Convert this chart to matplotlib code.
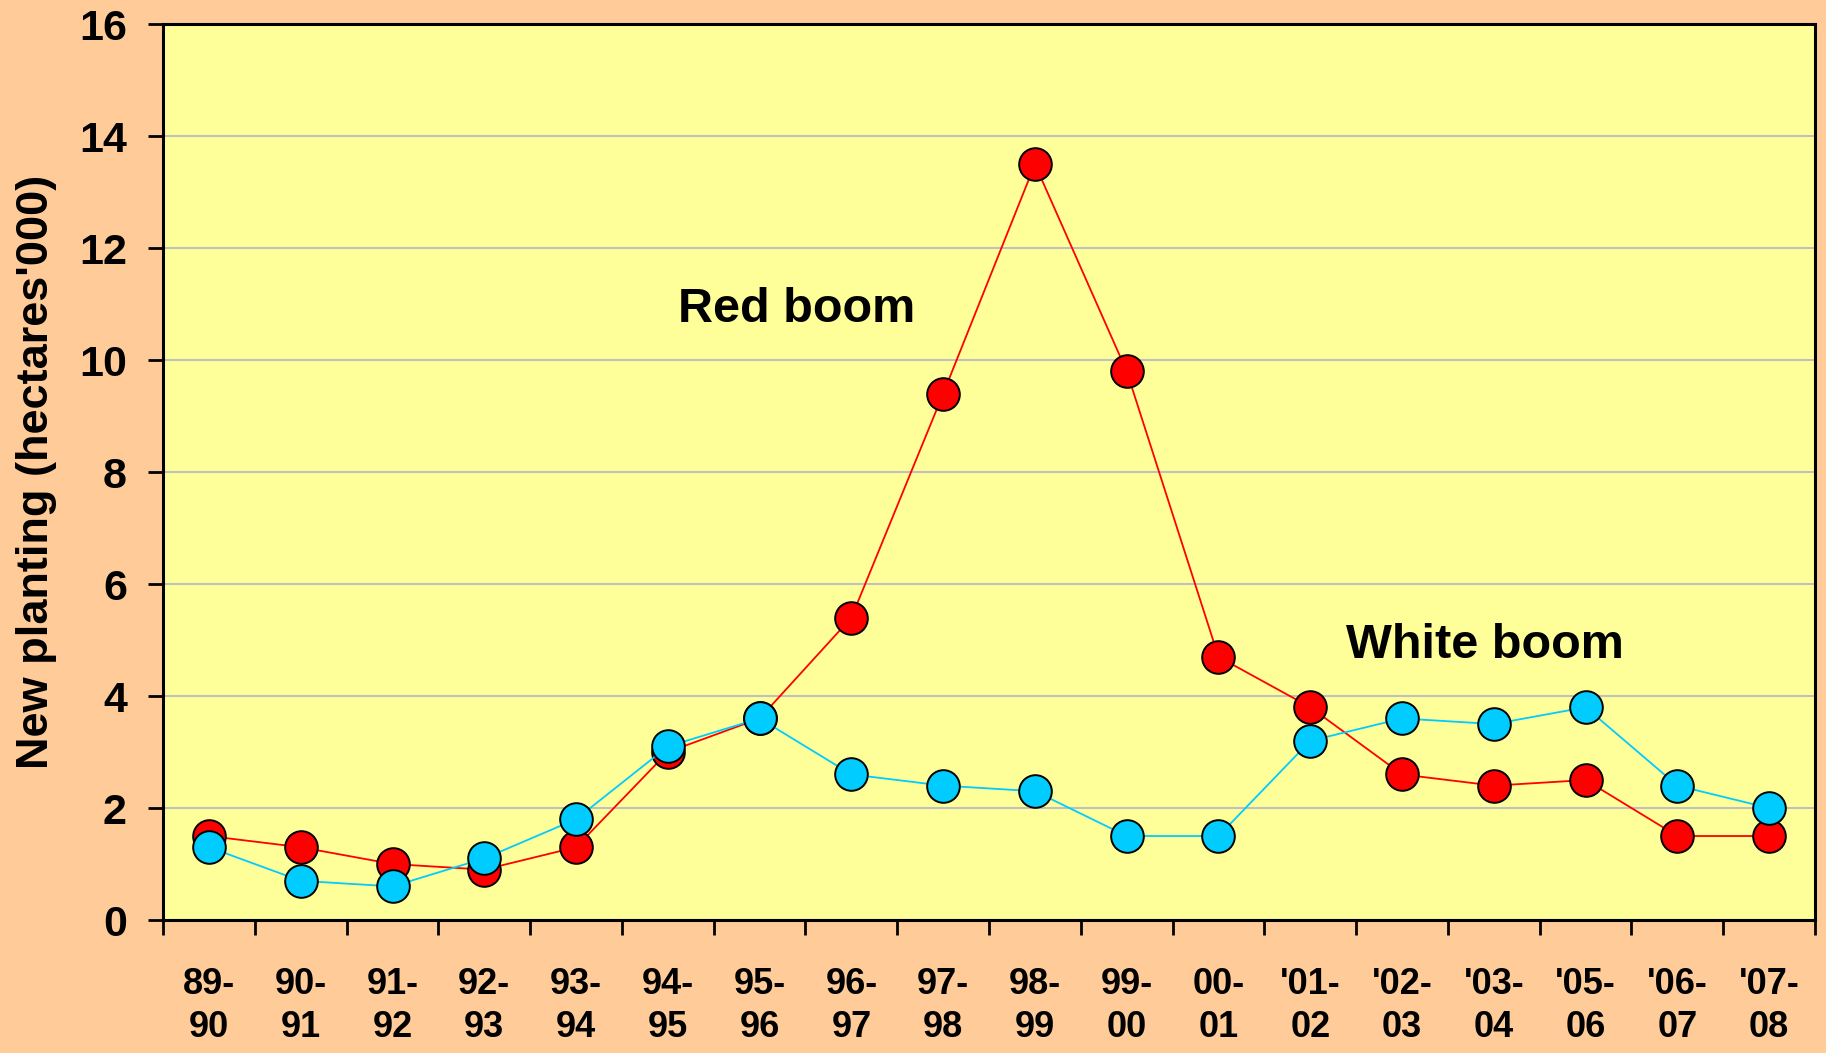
import matplotlib
matplotlib.use("Agg")
import matplotlib.pyplot as plt
import numpy as np

# vintage seasons and new planting per season (thousand hectares)
seasons = ["89-\n90", "90-\n91", "91-\n92", "92-\n93", "93-\n94", "94-\n95",
           "95-\n96", "96-\n97", "97-\n98", "98-\n99", "99-\n00", "00-\n01",
           "'01-\n02", "'02-\n03", "'03-\n04", "'05-\n06", "'06-\n07", "'07-\n08"]
red = [1.5, 1.3, 1.0, 0.9, 1.3, 3.0, 3.6, 5.4, 9.4, 13.5, 9.8, 4.7,
       3.8, 2.6, 2.4, 2.5, 1.5, 1.5]
white = [1.3, 0.7, 0.6, 1.1, 1.8, 3.1, 3.6, 2.6, 2.4, 2.3, 1.5, 1.5,
         3.2, 3.6, 3.5, 3.8, 2.4, 2.0]

plt.rcParams['font.family'] = ['Liberation Sans', 'DejaVu Sans']
plt.rcParams['font.weight'] = 'bold'

fig = plt.figure(figsize=(18.26, 10.53), dpi=100, facecolor='#FFCC99')
ax = fig.add_axes([0.0893, 0.1263, 0.9047, 0.8507])
ax.set_facecolor('#FFFF99')

x = np.arange(len(seasons))
ax.plot(x, red, color='#FF0000', lw=1.3, marker='o', ms=23.5,
        mfc='#FF0000', mec='black', mew=1.4, zorder=3)
ax.plot(x, white, color='#00CCFF', lw=1.3, marker='o', ms=23.5,
        mfc='#00CCFF', mec='black', mew=1.4, zorder=4)

ax.set_xlim(-0.5, len(seasons) - 0.5)
ax.set_ylim(0, 16)
ax.set_yticks(np.arange(0, 17, 2))
ax.yaxis.grid(True, color='#C0C0C0', lw=1.5)
ax.set_axisbelow(True)

ax.set_xticks(x)
ax.set_xticklabels(seasons, fontsize=26, fontweight='bold', linespacing=1.3)
ax.set_xticks(np.arange(-0.5, len(seasons)), minor=True)
ax.tick_params(axis='x', which='major', length=0, pad=34)
ax.tick_params(axis='x', which='minor', length=11, width=2, direction='out')
ax.tick_params(axis='y', length=11, width=2, direction='out', pad=15,
               labelsize=31)
for lab in ax.get_yticklabels():
    lab.set_fontweight('bold')

for s in ax.spines.values():
    s.set_color('black')
    s.set_linewidth(2.2)

ax.set_ylabel("New planting (hectares'000)", fontsize=32.5, fontweight='bold',
              labelpad=16)

ax.text(6.4, 10.9, "Red boom", fontsize=35, fontweight='bold',
        ha='center', va='center')
ax.text(13.9, 4.9, "White boom", fontsize=35, fontweight='bold',
        ha='center', va='center')

fig.savefig("out.png", dpi=100, facecolor=fig.get_facecolor())
